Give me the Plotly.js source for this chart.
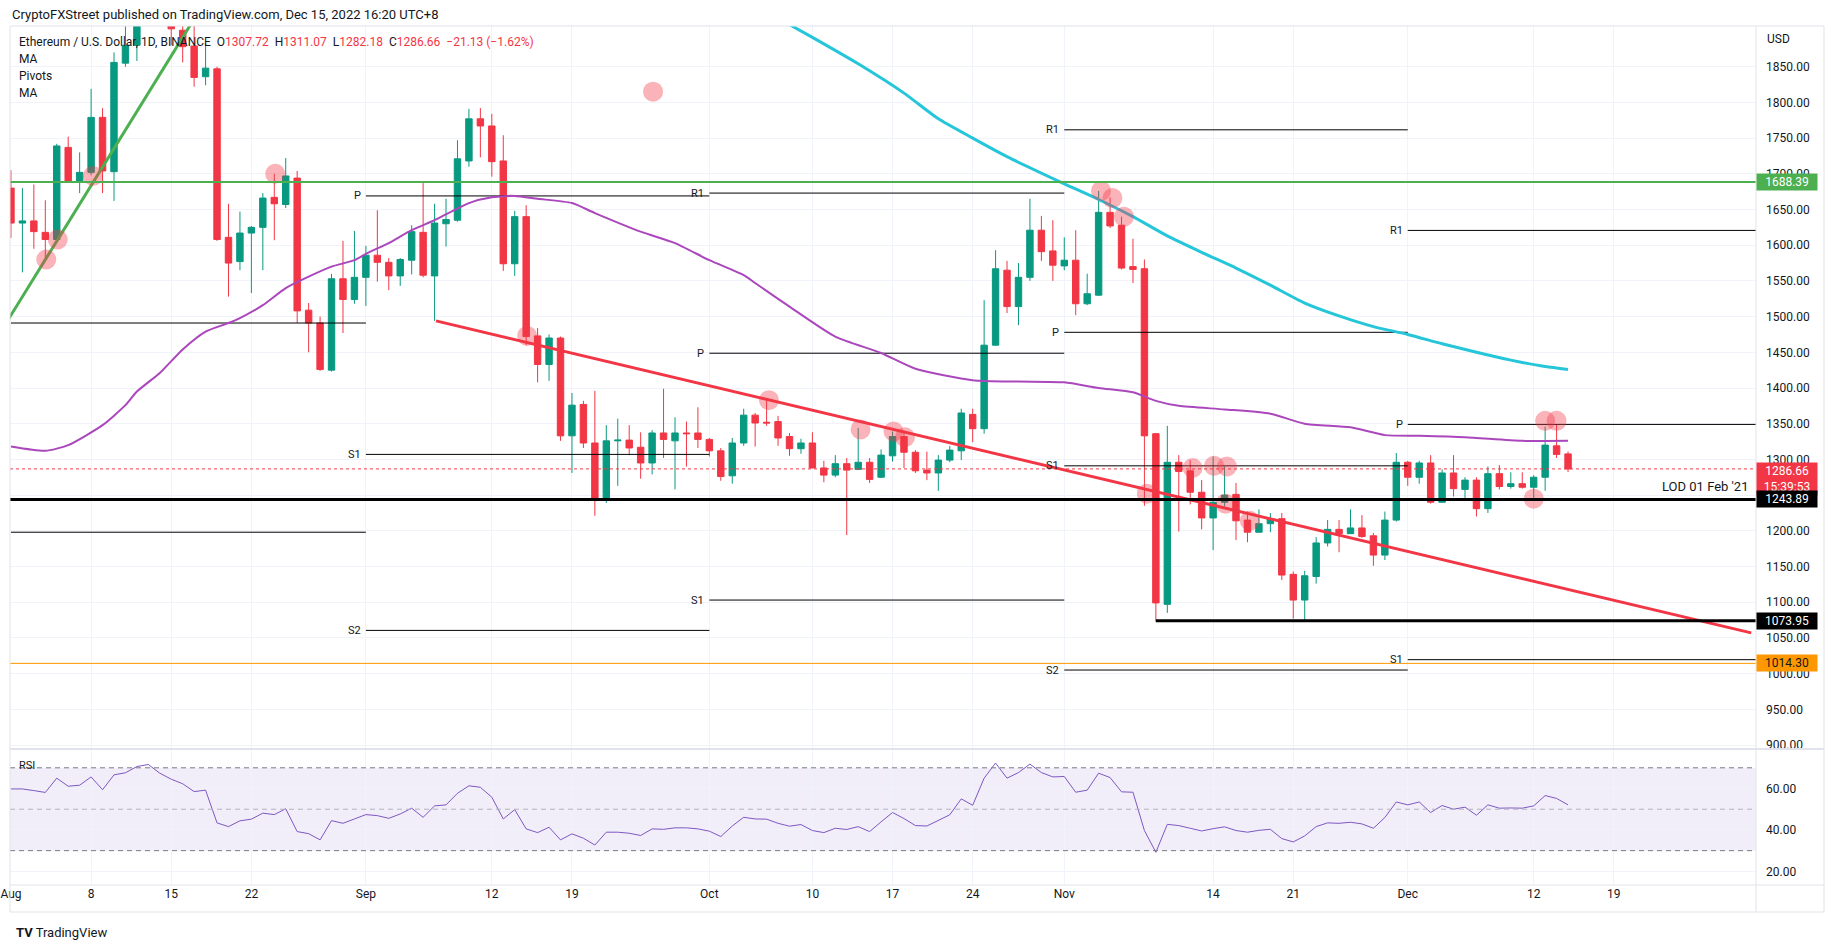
<!DOCTYPE html>
<html>
<head>
<meta charset="utf-8">
<script src="https://cdn.plot.ly/plotly-3.0.1.min.js"></script>
<style>
  body { margin: 0; background: #fff; }
  #chart { width: 1834px; height: 947px; }
</style>
</head>
<body>
<div id="chart"></div>
<script>
// daily ETH/USD candles, 1 Aug 2022 .. 15 Dec 2022
var opens = [
  1680, 1631, 1634, 1618, 1608, 1737, 1690, 1702, 1779, 1703, 1855, 1880, 1957, 1983, 1935, 1901,
  1879, 1836, 1847, 1611, 1577, 1617, 1625, 1667, 1657, 1694, 1509, 1491, 1425, 1553, 1524,
  1555, 1586, 1576, 1557, 1579, 1618, 1557, 1630, 1635, 1718, 1777, 1767, 1718, 1574, 1640,
  1473, 1433, 1470, 1333, 1377, 1323, 1245, 1326, 1327, 1317, 1295, 1337, 1326, 1337, 1337,
  1328, 1312, 1277, 1323, 1362, 1352, 1353, 1332, 1315, 1323, 1288, 1278, 1294, 1286, 1296,
  1275, 1305, 1332, 1310, 1285, 1281, 1299, 1312, 1363, 1343, 1460, 1565, 1514, 1555, 1621, 1592,
  1571, 1579, 1518, 1530, 1646, 1628, 1570, 1567, 1336, 1097, 1296, 1284, 1254, 1218, 1240,
  1251, 1215, 1198, 1210, 1217, 1139, 1103, 1136, 1183, 1202, 1196, 1204, 1193, 1166, 1215,
  1296, 1275, 1295, 1240, 1281, 1258, 1271, 1231, 1280, 1262, 1266, 1261, 1275, 1319, 1307.72
];
var highs = [
  1705, 1680, 1685, 1663, 1742, 1752, 1730, 1819, 1792, 1870, 1942, 1960, 2020, 2012, 2010, 1915,
  1907, 1883, 1850, 1658, 1647, 1627, 1673, 1700, 1722, 1704, 1519, 1500, 1560, 1606, 1620,
  1599, 1649, 1582, 1582, 1628, 1687, 1658, 1665, 1747, 1791, 1792, 1784, 1754, 1648, 1656,
  1484, 1475, 1472, 1393, 1382, 1396, 1348, 1357, 1348, 1338, 1341, 1399, 1359, 1353, 1373,
  1330, 1316, 1330, 1371, 1365, 1383, 1361, 1337, 1329, 1338, 1298, 1306, 1302, 1344, 1302,
  1314, 1339, 1340, 1313, 1311, 1306, 1319, 1371, 1371, 1523, 1593, 1578, 1575, 1665, 1641, 1635,
  1611, 1621, 1560, 1676, 1667, 1640, 1609, 1580, 1337, 1347, 1306, 1299, 1271, 1304, 1290,
  1267, 1227, 1230, 1225, 1225, 1143, 1144, 1191, 1215, 1215, 1230, 1222, 1197, 1227, 1309,
  1298, 1298, 1306, 1286, 1306, 1275, 1275, 1290, 1292, 1282, 1282, 1278, 1346, 1349, 1311.07
];
var lows = [
  1610, 1562, 1595, 1579, 1606, 1688, 1673, 1698, 1673, 1662, 1850, 1858, 1945, 1915, 1880, 1856,
  1822, 1824, 1606, 1528, 1565, 1533, 1565, 1607, 1652, 1491, 1450, 1424, 1423, 1477, 1518,
  1515, 1549, 1537, 1543, 1559, 1555, 1494, 1598, 1633, 1710, 1723, 1696, 1564, 1557, 1460,
  1408, 1410, 1326, 1281, 1316, 1221, 1239, 1263, 1306, 1273, 1279, 1302, 1258, 1290, 1316,
  1304, 1270, 1266, 1319, 1318, 1347, 1319, 1305, 1308, 1288, 1268, 1275, 1194, 1285, 1267,
  1274, 1297, 1288, 1281, 1271, 1256, 1296, 1299, 1324, 1336, 1459, 1505, 1488, 1550, 1578, 1550,
  1565, 1502, 1516, 1529, 1624, 1566, 1547, 1235, 1073, 1085, 1199, 1237, 1202, 1173, 1234,
  1187, 1184, 1198, 1198, 1131, 1077, 1074, 1126, 1178, 1170, 1196, 1190, 1151, 1159, 1213,
  1263, 1266, 1238, 1240, 1248, 1244, 1220, 1225, 1258, 1259, 1259, 1244, 1256, 1302, 1282.18
];
var closes = [
  1631, 1634, 1619, 1608, 1739, 1690, 1702, 1779, 1704, 1856, 1880, 1957, 1983, 1935, 1903, 1878,
  1835, 1848, 1608, 1575, 1617, 1625, 1666, 1658, 1697, 1508, 1491, 1426, 1553, 1524, 1555,
  1586, 1576, 1557, 1580, 1619, 1558, 1631, 1636, 1721, 1777, 1767, 1717, 1574, 1640, 1472,
  1433, 1470, 1333, 1376, 1323, 1245, 1326, 1327, 1316, 1295, 1337, 1328, 1337, 1336, 1328,
  1312, 1276, 1323, 1362, 1351, 1351, 1330, 1315, 1323, 1288, 1278, 1294, 1285, 1296, 1272,
  1306, 1332, 1310, 1284, 1281, 1299, 1313, 1365, 1343, 1460, 1567, 1514, 1555, 1621, 1591, 1572,
  1579, 1518, 1532, 1646, 1627, 1568, 1566, 1333, 1099, 1296, 1283, 1254, 1218, 1240, 1250,
  1214, 1198, 1210, 1217, 1138, 1103, 1137, 1183, 1202, 1196, 1204, 1192, 1166, 1215, 1296,
  1275, 1295, 1240, 1281, 1259, 1271, 1231, 1280, 1262, 1266, 1261, 1275, 1320, 1307, 1286.66
];

// RSI, same days
var rsiValues = [
  59.8, 59.8, 59.0, 58.1, 65.0, 61.1, 61.6, 65.6, 59.4, 66.6, 67.6, 70.6, 71.6, 67.4, 64.5, 62.3,
  58.5, 59.2, 43.4, 41.6, 44.4, 45.2, 48.1, 47.4, 50.2, 39.2, 38.2, 35.2, 44.5, 43.2, 45.3,
  47.4, 46.9, 45.6, 47.7, 50.5, 46.1, 51.6, 52.1, 57.7, 61.3, 60.6, 55.8, 45.3, 49.8, 40.5,
  38.7, 41.3, 35.2, 38.1, 36.0, 32.7, 38.9, 38.9, 38.4, 37.3, 40.5, 40.3, 41.0, 41.0, 40.5,
  39.4, 36.8, 41.9, 46.1, 45.3, 45.2, 43.2, 41.8, 42.6, 39.7, 38.7, 40.8, 40.2, 41.6, 39.2,
  43.9, 48.4, 45.5, 42.1, 41.9, 44.8, 47.3, 55.0, 51.9, 65.0, 72.3, 65.0, 67.7, 71.8, 67.7, 65.6,
  65.8, 58.2, 59.2, 67.4, 65.3, 58.4, 58.2, 39.7, 29.2, 42.7, 42.1, 40.8, 39.5, 40.6, 41.5,
  39.7, 38.9, 39.8, 40.3, 35.8, 34.2, 37.1, 41.6, 43.4, 43.2, 43.7, 42.9, 40.8, 46.0, 53.5,
  52.1, 53.5, 48.4, 51.8, 50.0, 51.0, 47.1, 52.1, 50.5, 50.6, 50.5, 51.6, 56.6, 55.2, 52.1
];

// moving averages
var maSlowDates = ['2022-08-01', '2022-08-04', '2022-08-06', '2022-08-09', '2022-08-11', '2022-08-12',
  '2022-08-14', '2022-08-16', '2022-08-18', '2022-08-20', '2022-08-21', '2022-08-23', '2022-08-25',
  '2022-08-27', '2022-08-29', '2022-08-31', '2022-09-01', '2022-09-03', '2022-09-05', '2022-09-07',
  '2022-09-10', '2022-09-12', '2022-09-14', '2022-09-16', '2022-09-19', '2022-09-21', '2022-09-25',
  '2022-09-28', '2022-10-01', '2022-10-04', '2022-10-05', '2022-10-08', '2022-10-12', '2022-10-16',
  '2022-10-19', '2022-10-24', '2022-10-28', '2022-11-01', '2022-11-04', '2022-11-07', '2022-11-09',
  '2022-11-11', '2022-11-15', '2022-11-19', '2022-11-22', '2022-11-26', '2022-11-29', '2022-12-02',
  '2022-12-06', '2022-12-11', '2022-12-15'];
var maSlowValues = [1318, 1312, 1320, 1348, 1376, 1395, 1421, 1454, 1479, 1491, 1498, 1516, 1540,
  1556, 1570, 1579, 1588, 1603, 1621, 1635, 1659, 1667, 1669, 1665, 1659, 1645, 1619, 1603, 1579,
  1558, 1547, 1514, 1472, 1449, 1427, 1411, 1409, 1408, 1400, 1394, 1382, 1375, 1370, 1364, 1350,
  1345, 1334, 1333, 1331, 1326, 1326];

var maLongDates = ['2022-10-07', '2022-10-10', '2022-10-14', '2022-10-18', '2022-10-21', '2022-10-24',
  '2022-10-27', '2022-11-01', '2022-11-04', '2022-11-07', '2022-11-10', '2022-11-13', '2022-11-16',
  '2022-11-19', '2022-11-22', '2022-11-25', '2022-11-28', '2022-12-01', '2022-12-04', '2022-12-07',
  '2022-12-10', '2022-12-13', '2022-12-15'];
var maLongValues = [1918, 1891, 1854, 1813, 1777, 1750, 1724, 1686, 1664, 1640, 1613, 1590, 1568,
  1544, 1519, 1501, 1486, 1475, 1462, 1450, 1439, 1430, 1426];

// drawn trend lines
var upTrendDates = ['2022-07-31', '2022-08-17'];
var upTrendValues = [1476, 1917];
var downTrendDates = ['2022-09-07 03:00', '2022-12-31'];
var downTrendValues = [1494, 1057];

// marked touches
var touchDates = ['2022-08-04 02:00', '2022-08-05 02:00', '2022-08-08 04:00', '2022-08-24 02:00',
  '2022-09-26 02:00', '2022-09-15 02:00', '2022-10-06 05:00', '2022-10-14 05:00', '2022-10-17 02:00',
  '2022-10-18 02:00', '2022-11-04 05:00', '2022-11-05 05:00', '2022-11-06 05:00', '2022-11-08 05:00',
  '2022-11-12 05:00', '2022-11-14 02:00', '2022-11-15 05:00', '2022-11-15 02:00', '2022-11-17 05:00',
  '2022-12-12', '2022-12-13', '2022-12-14'];
var touchValues = [1580, 1608, 1697, 1700, 1815, 1473, 1383, 1342, 1339, 1331, 1676, 1666, 1640,
  1252, 1288, 1291, 1290, 1238, 1214, 1245, 1354, 1354];

// monthly pivots
var pivotStart = ['2022-08-01', '2022-08-01', '2022-09-01', '2022-09-01', '2022-09-01',
  '2022-10-01', '2022-10-01', '2022-10-01', '2022-11-01', '2022-11-01', '2022-11-01', '2022-11-01',
  '2022-12-01', '2022-12-01', '2022-12-01'];
var pivotEnd = ['2022-09-01', '2022-09-01', '2022-10-01', '2022-10-01', '2022-10-01',
  '2022-11-01', '2022-11-01', '2022-11-01', '2022-12-01', '2022-12-01', '2022-12-01', '2022-12-01',
  '2023-01-01', '2023-01-01', '2023-01-01'];
var pivotLevel = [1491, 1198, 1669, 1307, 1060.5, 1673, 1448.7, 1103, 1761.6, 1478, 1291, 1005,
  1620.7, 1349, 1019.5];
var pivotName = ['', '', 'P', 'S1', 'S2', 'R1', 'P', 'S1', 'R1', 'P', 'S1', 'S2', 'R1', 'P', 'S1'];

// horizontal levels
var greenLevel = 1688.39;
var lodLevel = 1243.89;
var lowLevel = 1073.95;
var lowLevelStart = '2022-11-09';
var orangeLevel = 1014.30;
var lastPrice = 1286.66;
var countdown = '15:39:53';

var tickDates = ['2022-08-01', '2022-08-08', '2022-08-15', '2022-08-22', '2022-09-01', '2022-09-12',
  '2022-09-19', '2022-10-01', '2022-10-10', '2022-10-17', '2022-10-24', '2022-11-01', '2022-11-14',
  '2022-11-21', '2022-12-01', '2022-12-12', '2022-12-19'];
var tickLabels = ['Aug', '8', '15', '22', 'Sep', '12', '19', 'Oct', '10', '17', '24', 'Nov', '14',
  '21', 'Dec', '12', '19'];
var priceTicks = [900, 950, 1000, 1050, 1100, 1150, 1200, 1250, 1300, 1350, 1400, 1450, 1500, 1550,
  1600, 1650, 1700, 1750, 1800, 1850];
var hiddenPriceTicks = [1250];
var rsiTicks = [20, 40, 60];

var dates = opens.map(function (_, i) {
  return new Date(Date.UTC(2022, 7, 1) + i * 864e5).toISOString().slice(0, 10);
});

var pivX = [], pivY = [];
for (var i = 0; i < pivotLevel.length; i++) {
  pivX.push(pivotStart[i], pivotEnd[i], null);
  pivY.push(pivotLevel[i], pivotLevel[i], null);
}

var candles = {
  type: 'candlestick',
  x: dates, open: opens, high: highs, low: lows, close: closes,
  increasing: {line: {color: '#089981', width: 1}, fillcolor: '#089981'},
  decreasing: {line: {color: '#f23645', width: 1}, fillcolor: '#f23645'},
  whiskerwidth: 0,
  hoverinfo: 'skip'
};

var pivots = {
  type: 'scatter', mode: 'lines', x: pivX, y: pivY,
  line: {color: '#000000', width: 1}, hoverinfo: 'skip'
};

var maSlow = {
  type: 'scatter', mode: 'lines', x: maSlowDates, y: maSlowValues,
  line: {color: '#ab47bc', width: 2, shape: 'spline', smoothing: 0.6}, hoverinfo: 'skip'
};

var maLong = {
  type: 'scatter', mode: 'lines', x: maLongDates, y: maLongValues,
  line: {color: '#26c6da', width: 3, shape: 'spline', smoothing: 0.6}, hoverinfo: 'skip'
};

var upTrend = {
  type: 'scatter', mode: 'lines', x: upTrendDates, y: upTrendValues,
  line: {color: '#4caf50', width: 3}, hoverinfo: 'skip'
};

var downTrend = {
  type: 'scatter', mode: 'lines', x: downTrendDates, y: downTrendValues,
  line: {color: '#f23645', width: 3}, hoverinfo: 'skip'
};

var touches = {
  type: 'scatter', mode: 'markers', x: touchDates, y: touchValues,
  marker: {size: 20, color: 'rgba(242,54,69,0.38)', line: {width: 0}}, hoverinfo: 'skip'
};

var rsi = {
  type: 'scatter', mode: 'lines', x: dates, y: rsiValues, yaxis: 'y2',
  line: {color: '#7e57c2', width: 1}, hoverinfo: 'skip'
};

// paper coords: plot box is x 10..1756, y 26..885 px
function px(x) { return (x - 10) / 1746; }
function py(y) { return (885 - y) / 859; }

var frame = '#e0e3eb';
var shapes = [
  {type: 'rect', xref: 'paper', yref: 'y2', x0: 0, x1: 1, y0: 30, y1: 70,
    fillcolor: 'rgba(126,87,194,0.1)', line: {width: 0}, layer: 'below'},
  {type: 'line', xref: 'paper', yref: 'y2', x0: 0, x1: 1, y0: 70, y1: 70,
    line: {color: '#787b86', width: 1, dash: '5px,4px'}},
  {type: 'line', xref: 'paper', yref: 'y2', x0: 0, x1: 1, y0: 50, y1: 50,
    line: {color: '#b2b5be', width: 1, dash: '5px,4px'}},
  {type: 'line', xref: 'paper', yref: 'y2', x0: 0, x1: 1, y0: 30, y1: 30,
    line: {color: '#787b86', width: 1, dash: '5px,4px'}},
  {type: 'line', xref: 'paper', yref: 'y', x0: 0, x1: 1, y0: lastPrice, y1: lastPrice,
    line: {color: '#f23645', width: 1, dash: 'dot'}},
  {type: 'line', xref: 'paper', yref: 'y', x0: 0, x1: 1, y0: greenLevel, y1: greenLevel,
    line: {color: '#4caf50', width: 2}},
  {type: 'line', xref: 'paper', yref: 'y', x0: 0, x1: 1, y0: lodLevel, y1: lodLevel,
    line: {color: '#000000', width: 3}},
  {type: 'line', xref: 'x', yref: 'y', x0: lowLevelStart, x1: '2023-01-02', y0: lowLevel, y1: lowLevel,
    line: {color: '#000000', width: 3}},
  {type: 'line', xref: 'paper', yref: 'y', x0: 0, x1: 1, y0: orangeLevel, y1: orangeLevel,
    line: {color: '#ff9800', width: 1}},
  // frame and pane separators
  {type: 'rect', xref: 'paper', yref: 'paper', x0: px(10), x1: px(1824), y0: py(912), y1: py(26),
    line: {color: frame, width: 1}},
  {type: 'line', xref: 'paper', yref: 'paper', x0: px(10), x1: px(1824), y0: py(749), y1: py(749),
    line: {color: frame, width: 2}},
  {type: 'line', xref: 'paper', yref: 'paper', x0: px(10), x1: px(1824), y0: py(885), y1: py(885),
    line: {color: frame, width: 1}},
  {type: 'line', xref: 'paper', yref: 'paper', x0: 1, x1: 1, y0: py(912), y1: py(26),
    line: {color: frame, width: 1}}
];

var red = '#f23645';
function sp(t) { return '<span style="color:' + red + '">' + t + '</span>'; }
var nb = '\u00a0\u00a0';
var headerLine = 'Ethereum / U.S. Dollar, 1D, BINANCE' + nb + 'O' + sp(opens[opens.length - 1].toFixed(2)) +
  nb + 'H' + sp(highs[highs.length - 1].toFixed(2)) + nb + 'L' + sp(lows[lows.length - 1].toFixed(2)) +
  nb + 'C' + sp(closes[closes.length - 1].toFixed(2)) + nb + sp('\u221221.13 (\u22121.62%)');

var annotations = [
  {xref: 'paper', yref: 'paper', x: px(10), y: py(15), xanchor: 'left', yanchor: 'middle',
    text: 'CryptoFXStreet published on TradingView.com, Dec 15, 2022 16:20 UTC+8', showarrow: false,
    font: {size: 13, color: '#131722'}},
  {xref: 'paper', yref: 'paper', x: px(17), y: py(42), xanchor: 'left', yanchor: 'middle',
    text: headerLine, showarrow: false, font: {size: 12, color: '#131722'}},
  {xref: 'paper', yref: 'paper', x: px(17), y: py(59), xanchor: 'left', yanchor: 'middle',
    text: 'MA', showarrow: false, font: {size: 12, color: '#131722'}},
  {xref: 'paper', yref: 'paper', x: px(17), y: py(76), xanchor: 'left', yanchor: 'middle',
    text: 'Pivots', showarrow: false, font: {size: 12, color: '#131722'}},
  {xref: 'paper', yref: 'paper', x: px(17), y: py(93), xanchor: 'left', yanchor: 'middle',
    text: 'MA', showarrow: false, font: {size: 12, color: '#131722'}},
  {xref: 'paper', yref: 'paper', x: px(17), y: py(765), xanchor: 'left', yanchor: 'middle',
    text: 'RSI', showarrow: false, font: {size: 11, color: '#131722'}},
  {xref: 'paper', yref: 'paper', x: 1, xshift: 9, y: py(39), xanchor: 'left', yanchor: 'middle',
    text: 'USD', showarrow: false, font: {size: 12, color: '#131722'}},
  {xref: 'paper', yref: 'y', x: 1, xshift: -6, y: lodLevel, yshift: 3, xanchor: 'right', yanchor: 'bottom',
    text: "LOD 01 Feb '21", showarrow: false, font: {size: 13, color: '#131722'}},
  {xref: 'paper', yref: 'paper', x: px(14), y: py(932), xanchor: 'left', yanchor: 'middle',
    text: '<b>TV</b> TradingView', showarrow: false, font: {size: 13, color: '#131722'}}
];

function priceBox(value, text, bg, fg, anchor, shift) {
  return {xref: 'paper', yref: 'y', x: 1, y: value, yshift: shift || 0, xanchor: 'left',
    yanchor: anchor || 'middle', text: text, showarrow: false, bgcolor: bg, borderpad: 1,
    width: 58, align: 'center', font: {size: 12, color: fg}};
}
annotations.push(priceBox(greenLevel, greenLevel.toFixed(2), '#4caf50', '#ffffff'));
annotations.push(priceBox(lastPrice, lastPrice.toFixed(2) + '<br>' + countdown, '#f23645', '#ffffff', 'top', 7));
annotations.push(priceBox(lodLevel, lodLevel.toFixed(2), '#000000', '#ffffff'));
annotations.push(priceBox(lowLevel, lowLevel.toFixed(2), '#000000', '#ffffff'));
annotations.push(priceBox(orangeLevel, orangeLevel.toFixed(2), '#ff9800', '#131722'));

for (var j = 0; j < pivotName.length; j++) {
  if (!pivotName[j]) continue;
  annotations.push({xref: 'x', yref: 'y', x: pivotStart[j], y: pivotLevel[j], xanchor: 'right',
    yanchor: 'middle', xshift: -3, text: pivotName[j], showarrow: false,
    font: {size: 11, color: '#131722'}});
}

var layout = {
  width: 1834, height: 947,
  margin: {l: 10, r: 78, t: 26, b: 62},
  paper_bgcolor: '#ffffff', plot_bgcolor: '#ffffff',
  font: {family: 'Roboto, sans-serif', size: 12, color: '#131722'},
  showlegend: false, hovermode: false, boxgap: 0.2,
  xaxis: {
    type: 'date', range: ['2022-07-31 22:00', '2022-12-31 10:00'], anchor: 'y2',
    tickvals: tickDates, ticktext: tickLabels, ticks: '', showline: false, zeroline: false,
    showgrid: true, gridcolor: '#f0f3fa', rangeslider: {visible: false},
    tickfont: {size: 12, color: '#131722'}
  },
  yaxis: {
    domain: [py(748), 1], range: [895.8, 1907], side: 'right', anchor: 'x',
    tickvals: priceTicks,
    ticktext: priceTicks.map(function (v) { return hiddenPriceTicks.indexOf(v) >= 0 ? '' : v.toFixed(2); }),
    ticks: '', ticklabelstandoff: 9, showline: false, zeroline: false,
    showgrid: true, gridcolor: '#f0f3fa', tickfont: {size: 12, color: '#131722'}
  },
  yaxis2: {
    domain: [0, py(750)], range: [13.4, 78.6], side: 'right', anchor: 'x',
    tickvals: rsiTicks, ticktext: rsiTicks.map(function (v) { return v.toFixed(2); }),
    ticks: '', ticklabelstandoff: 9, showline: false, zeroline: false,
    showgrid: true, gridcolor: '#f0f3fa', tickfont: {size: 12, color: '#131722'}
  },
  shapes: shapes,
  annotations: annotations
};

Plotly.newPlot('chart', [pivots, candles, maSlow, maLong, upTrend, downTrend, touches, rsi], layout,
  {staticPlot: true, displayModeBar: false});
</script>
</body>
</html>
